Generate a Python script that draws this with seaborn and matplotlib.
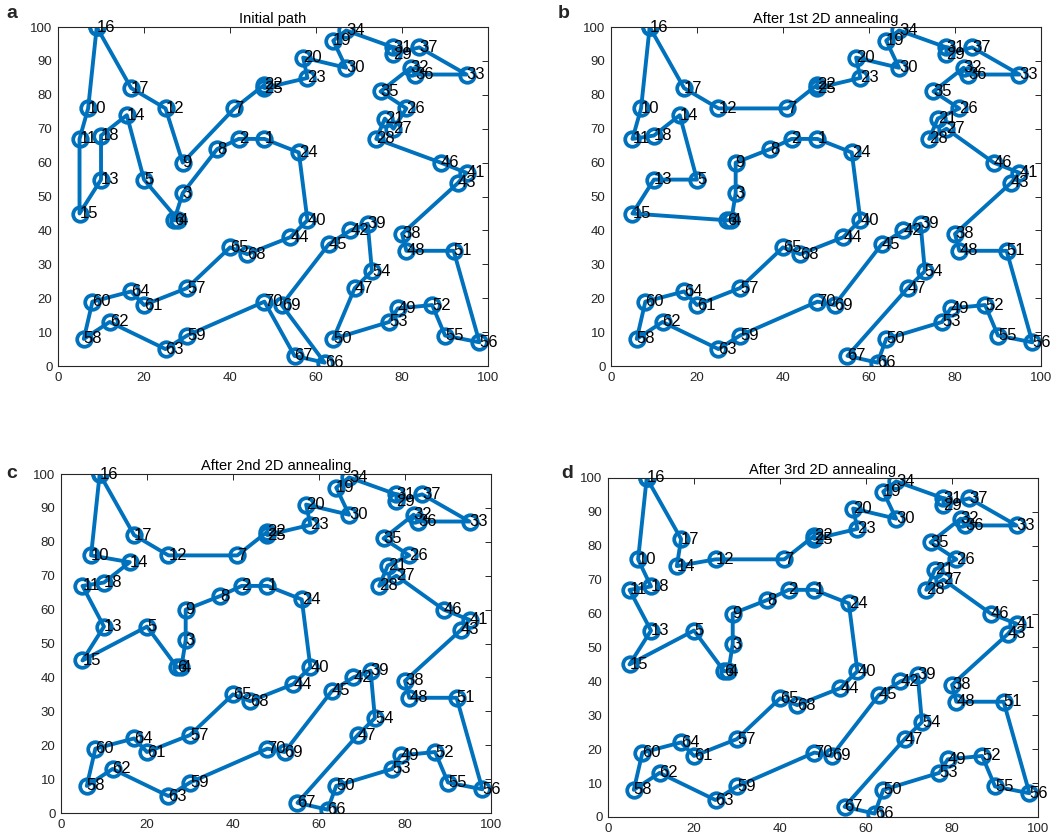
import numpy as np
import pandas as pd
import matplotlib
matplotlib.use("Agg")
import matplotlib.pyplot as plt
import seaborn as sns

# City coordinates (city k is at index k-1)
city_x = [48, 42, 29, 28, 20, 27, 41, 37, 29, 7,
          5, 25, 10, 16, 5, 9, 17, 10, 64, 57,
          76, 48, 58, 56, 48, 81, 78, 74, 78, 67,
          78, 82, 95, 67, 75, 83, 84, 80, 72, 58,
          95, 68, 93, 54, 63, 89, 69, 81, 79, 64,
          92, 87, 77, 73, 90, 98, 30, 6, 30, 8,
          20, 12, 25, 17, 40, 62, 55, 44, 52, 48]
city_y = [67, 67, 51, 43, 55, 43, 76, 64, 60, 76,
          67, 76, 55, 74, 45, 100, 82, 68, 96, 91,
          73, 83, 85, 63, 82, 76, 70, 67, 92, 88,
          94, 88, 86, 99, 81, 86, 94, 39, 42, 43,
          57, 40, 54, 38, 36, 60, 23, 34, 17, 8,
          34, 18, 13, 28, 9, 7, 23, 8, 9, 19,
          18, 13, 5, 22, 35, 1, 3, 33, 18, 19]

tour_initial = [16, 17, 12, 9, 7, 22, 25, 23, 20, 30, 19, 34, 31, 29, 37, 33, 36, 32, 35, 26,
                27, 21, 28, 46, 41, 43, 38, 48, 51, 56, 55, 52, 49, 53, 50, 47, 54, 39, 42, 45,
                69, 66, 67, 70, 59, 63, 62, 58, 60, 64, 61, 57, 65, 68, 44, 40, 24, 1, 2, 8,
                3, 6, 4, 5, 14, 18, 13, 15, 11, 10]
tour_1st = [16, 17, 12, 7, 22, 25, 23, 20, 30, 19, 34, 31, 29, 37, 33, 36, 32, 35, 26, 21,
            28, 27, 46, 41, 43, 38, 48, 51, 56, 55, 52, 49, 53, 50, 66, 67, 47, 54, 39, 42,
            45, 69, 70, 59, 63, 62, 58, 60, 64, 61, 57, 65, 68, 44, 40, 24, 1, 2, 8, 9,
            3, 4, 6, 15, 13, 5, 14, 18, 11, 10]
tour_2nd = [16, 17, 12, 7, 22, 25, 23, 20, 30, 19, 34, 31, 29, 37, 33, 36, 32, 35, 26, 21,
            28, 27, 46, 41, 43, 38, 48, 51, 56, 55, 52, 49, 53, 50, 66, 67, 47, 54, 39, 42,
            45, 69, 70, 59, 63, 62, 58, 60, 64, 61, 57, 65, 68, 44, 40, 24, 1, 2, 8, 9,
            3, 4, 6, 5, 15, 13, 11, 18, 14, 10]
tour_3rd = [16, 17, 14, 12, 7, 22, 25, 23, 20, 30, 19, 34, 31, 29, 37, 33, 36, 32, 35, 26,
            21, 28, 27, 46, 41, 43, 38, 48, 51, 56, 55, 52, 49, 53, 50, 66, 67, 47, 54, 39,
            42, 45, 69, 70, 59, 63, 62, 58, 60, 64, 61, 57, 65, 68, 44, 40, 24, 1, 2, 8,
            9, 3, 4, 6, 5, 15, 13, 11, 18, 10]

titles = ["Initial path", "After 1st 2D annealing", "After 2nd 2D annealing", "After 3rd 2D annealing"]
panel_letters = ["a", "b", "c", "d"]
tours = [tour_initial, tour_1st, tour_2nd, tour_3rd]
x_ticks = [0, 20, 40, 60, 80, 100]
y_ticks = [0, 10, 20, 30, 40, 50, 60, 70, 80, 90, 100]

sns.set_style("white")
plt.rcParams["font.family"] = ["Liberation Sans", "DejaVu Sans"]
plt.rcParams["xtick.direction"] = "in"
plt.rcParams["ytick.direction"] = "in"

COL = "#0072BD"
fig = plt.figure(figsize=(10.53, 8.38), dpi=100)
positions = [
    [0.0551, 0.5632, 0.4084, 0.4045],
    [0.5802, 0.5632, 0.4084, 0.4045],
    [0.0579, 0.0298, 0.4084, 0.4045],
    [0.5774, 0.0251, 0.4084, 0.4045],
]
letter_pos = [(12, 14), (564, 14), (12, 473), (567, 473)]

cx = np.array(city_x)
cy = np.array(city_y)
for i in range(4):
    ax = fig.add_axes(positions[i])
    order = tours[i] + [tours[i][0]]
    idx = np.array(order) - 1
    df = pd.DataFrame({"x": cx[idx], "y": cy[idx], "step": np.arange(len(order))})
    sns.lineplot(data=df, x="x", y="y", sort=False, estimator=None, ax=ax,
                 color=COL, linewidth=2.8, marker="o", markersize=10.5,
                 markerfacecolor="none", markeredgecolor=COL, markeredgewidth=2.7)
    for k in range(len(city_x)):
        ax.text(cx[k], cy[k], str(k + 1), ha="left", va="center", fontsize=12, color="black")
    ax.set_xlim(0, 100)
    ax.set_ylim(0, 100)
    ax.set_xticks(x_ticks)
    ax.set_yticks(y_ticks)
    ax.set_xlabel("")
    ax.set_ylabel("")
    ax.tick_params(axis="both", which="both", direction="in", top=True, right=True,
                   length=4, width=0.7, labelsize=9.5, colors="#262626", pad=4)
    for sp in ax.spines.values():
        sp.set_visible(True)
        sp.set_color("#262626")
        sp.set_linewidth(0.8)
    ax.set_title(titles[i], fontsize=10.5, pad=3, color="black")
    lx, ly = letter_pos[i]
    fig.text(lx / 1053, 1 - ly / 838, panel_letters[i], fontsize=14, fontweight="bold",
             ha="center", va="center")

fig.savefig("out.png", dpi=100)
